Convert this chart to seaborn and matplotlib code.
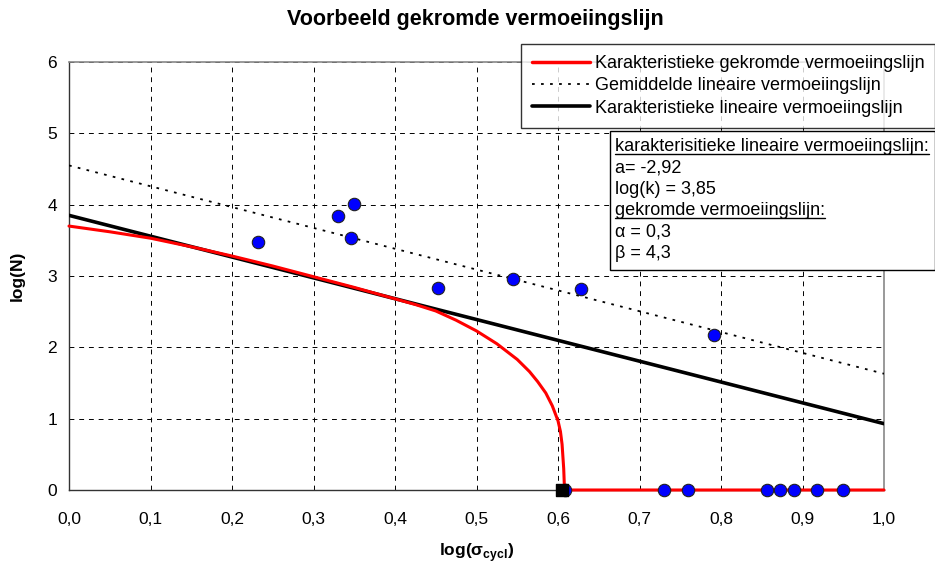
import numpy as np
import pandas as pd
import matplotlib
matplotlib.use("Agg")
import matplotlib.pyplot as plt
from matplotlib.lines import Line2D
from matplotlib.patches import Rectangle
import seaborn as sns

# gegevens
x_lin = [0.0, 1.0]
y_kar_lin = [3.85, 0.93]
y_gem_lin = [4.55, 1.63]

x_gekromd = [0.0, 0.05, 0.1, 0.15, 0.2, 0.25, 0.3, 0.35, 0.4, 0.425, 0.45, 0.475, 0.5,
             0.525, 0.55, 0.565, 0.575, 0.585, 0.593, 0.6, 0.603, 0.605, 0.607, 0.608, 1.0]
y_gekromd = [3.70, 3.62, 3.53, 3.41, 3.28, 3.14, 2.99, 2.84, 2.68, 2.60, 2.51, 2.38, 2.23,
             2.05, 1.83, 1.66, 1.52, 1.36, 1.18, 0.97, 0.82, 0.64, 0.30, 0.0, 0.0]

x_proef = [0.232, 0.330, 0.350, 0.346, 0.453, 0.545, 0.628, 0.791,
           0.609, 0.730, 0.760, 0.856, 0.872, 0.890, 0.918, 0.950]
y_proef = [3.48, 3.84, 4.01, 3.53, 2.83, 2.96, 2.82, 2.17,
           0, 0, 0, 0, 0, 0, 0, 0]

x_eind = [0.605]
y_eind = [0.0]

x_ticks = [0.0, 0.1, 0.2, 0.3, 0.4, 0.5, 0.6, 0.7, 0.8, 0.9, 1.0]
x_ticklabels = ["0,0", "0,1", "0,2", "0,3", "0,4", "0,5", "0,6", "0,7", "0,8", "0,9", "1,0"]
y_ticks = [0, 1, 2, 3, 4, 5, 6]

infotekst = ["karakterisitieke lineaire vermoeiingslijn:", "a= -2,92", "log(k) = 3,85",
             "gekromde vermoeiingslijn:", "α = 0,3", "β = 4,3"]
onderstreept = [True, False, False, True, False, False]

sns.set_theme(style="white")
plt.rcParams["font.family"] = ["Liberation Sans", "DejaVu Sans"]
plt.rcParams["mathtext.fontset"] = "custom"
plt.rcParams["mathtext.rm"] = "Liberation Sans"
plt.rcParams["mathtext.bf"] = "Liberation Sans:bold"
plt.rcParams["text.color"] = "black"
plt.rcParams["axes.labelcolor"] = "black"

fig = plt.figure(figsize=(9.35, 5.71), dpi=100)
ax = fig.add_axes([69 / 935, 1 - 490 / 571, 815 / 935, 428 / 571])

df_lin = pd.DataFrame({"x": x_lin, "kar": y_kar_lin, "gem": y_gem_lin})
df_krom = pd.DataFrame({"x": x_gekromd, "y": y_gekromd})
df_proef = pd.DataFrame({"x": x_proef, "y": y_proef})

sns.lineplot(data=df_lin, x="x", y="gem", ax=ax, color="black", linewidth=1.3,
             linestyle=(0, (1.5, 3.5)), zorder=3)
sns.lineplot(data=df_lin, x="x", y="kar", ax=ax, color="black", linewidth=2.6, zorder=4)
sns.lineplot(data=df_krom, x="x", y="y", ax=ax, color="red", linewidth=2.2, zorder=5,
             estimator=None, sort=False, clip_on=False)
sns.scatterplot(data=df_proef, x="x", y="y", ax=ax, color="#0000ff", edgecolor="#222222",
                linewidth=0.8, s=80, zorder=6, clip_on=False)
ax.scatter(x_eind, y_eind, marker="s", color="black", s=70, zorder=7, clip_on=False)

ax.set_xlim(0, 1)
ax.set_ylim(0, 6)
ax.set_xticks(x_ticks)
ax.set_xticklabels(x_ticklabels)
ax.set_yticks(y_ticks)
ax.tick_params(axis="x", direction="inout", length=8, width=0.8, pad=12, labelsize=12.5, colors="black")
ax.tick_params(axis="y", direction="out", length=5, width=0.8, labelsize=12.5, colors="black")
ax.grid(True, color="black", linestyle=(0, (5, 5)), linewidth=0.7)
for kant in ["top", "right"]:
    ax.spines[kant].set_color("#888888")
    ax.spines[kant].set_linewidth(1.2)
for kant in ["left", "bottom"]:
    ax.spines[kant].set_color("#333333")
    ax.spines[kant].set_linewidth(1.0)

ax.set_xlabel(r"log(σ$_\mathbf{cycl}$)", fontsize=12.5, fontweight="bold", labelpad=10)
ax.set_ylabel("log(N)", fontsize=12.5, fontweight="bold", labelpad=16)
fig.text(475 / 935, 1 - 19 / 571, "Voorbeeld gekromde vermoeiingslijn", ha="center", va="center",
         fontsize=15.5, fontweight="bold")

handles = [Line2D([], [], color="red", linewidth=2.5),
           Line2D([], [], color="black", linewidth=1.3, linestyle=(0, (1.5, 3.5))),
           Line2D([], [], color="black", linewidth=2.6)]
labels = ["Karakteristieke gekromde vermoeiingslijn", "Gemiddelde lineaire vermoeiingslijn",
          "Karakteristieke lineaire vermoeiingslijn"]
leg = fig.legend(handles, labels, loc="upper right", bbox_to_anchor=(1.0, 1 - 44 / 571),
                 fontsize=13, frameon=True, fancybox=False, borderaxespad=0,
                 handlelength=3.2, handletextpad=0.25, labelspacing=0.3,
                 borderpad=0.6)
leg.get_frame().set_edgecolor("black")
leg.get_frame().set_linewidth(1.0)
leg.set_zorder(10)

fig.patches.append(Rectangle((610 / 935, 1 - 270 / 571), 325 / 935, 139 / 571,
                             transform=fig.transFigure, facecolor="white",
                             edgecolor="black", linewidth=1.0, zorder=10))
teksten = []
for i, regel in enumerate(infotekst):
    t = fig.text(615 / 935, 1 - (146 + i * 21.6) / 571, regel, ha="left", va="center",
                 fontsize=13, zorder=11)
    teksten.append(t)

fig.canvas.draw()
r = fig.canvas.get_renderer()
for t, ond in zip(teksten, onderstreept):
    if ond:
        bb = t.get_window_extent(r)
        yl = bb.y0 + 1
        fig.add_artist(Line2D([bb.x0, bb.x1], [yl, yl], transform=None, color="black",
                              linewidth=1.0, zorder=12))

fig.savefig("out.png", dpi=100)
